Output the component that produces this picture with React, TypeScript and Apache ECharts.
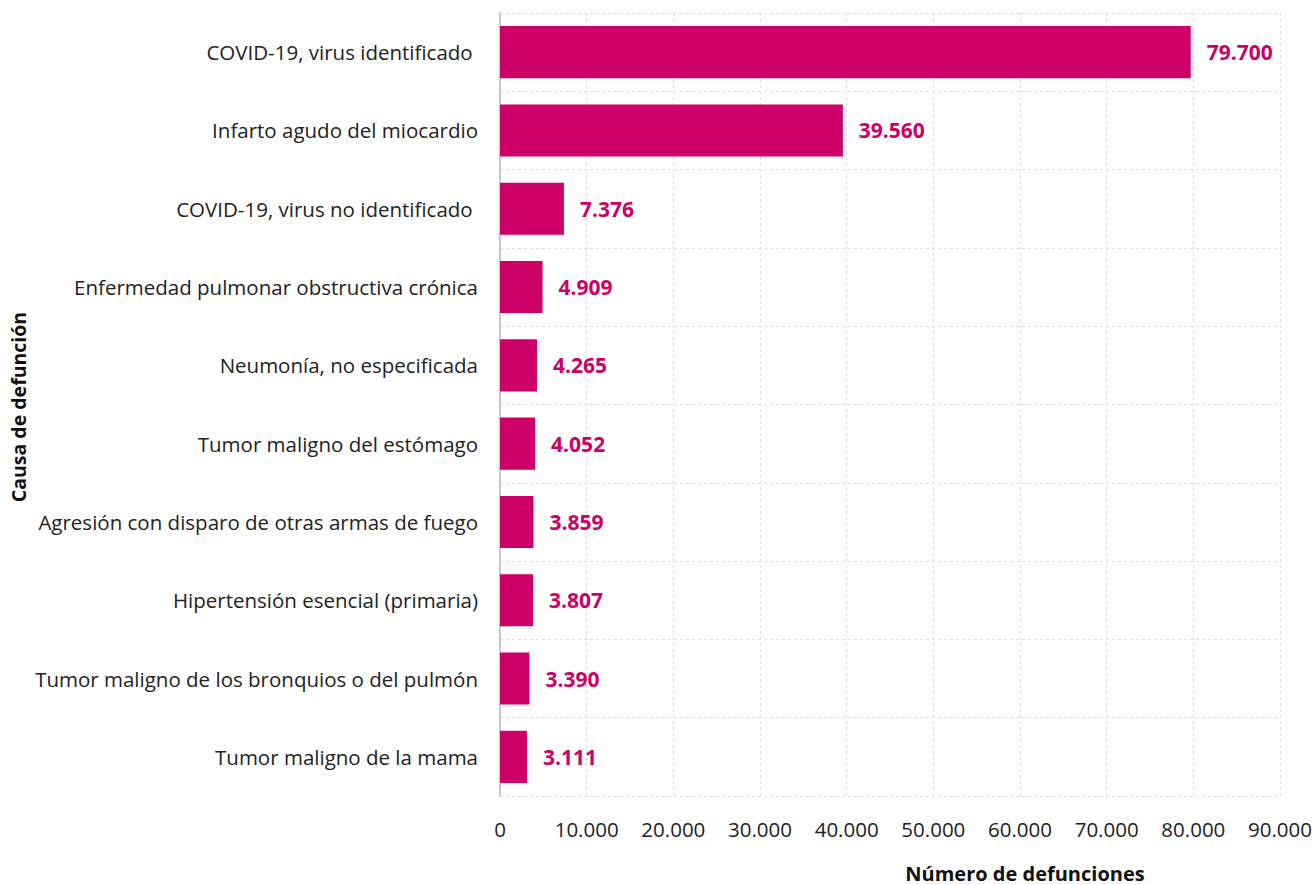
import React, { useEffect, useRef } from "react";
import * as echarts from "echarts";

const categories = [
  "COVID-19, virus identificado ",
  "Infarto agudo del miocardio",
  "COVID-19, virus no identificado ",
  "Enfermedad pulmonar obstructiva crónica",
  "Neumonía, no especificada",
  "Tumor maligno del estómago",
  "Agresión con disparo de otras armas de fuego",
  "Hipertensión esencial (primaria)",
  "Tumor maligno de los bronquios o del pulmón",
  "Tumor maligno de la mama",
];
const values = [79700, 39560, 7376, 4909, 4265, 4052, 3859, 3807, 3390, 3111];

const xTicks = { min: 0, max: 90000, interval: 10000 };
const xAxisTitle = "Número de defunciones";
const yAxisTitle = "Causa de defunción";

const FONT = "'Open Sans', 'Noto Sans', sans-serif";
const fmt = (v: number) => String(v).replace(/\B(?=(\d{3})+(?!\d))/g, ".");

export default function App() {
  const ref = useRef<HTMLDivElement>(null);
  useEffect(() => {
    if (!ref.current) return;
    const chart = echarts.init(ref.current, undefined, { renderer: "svg" });
    chart.setOption({
      animation: false,
      textStyle: { fontFamily: FONT },
      grid: { left: 500, right: 33, top: 13, bottom: 89, containLabel: false },
      xAxis: {
        type: "value",
        min: xTicks.min,
        max: xTicks.max,
        interval: xTicks.interval,
        axisLine: { show: false },
        axisTick: { show: false },
        axisLabel: {
          formatter: (v: number) => fmt(v),
          fontSize: 20.5,
          color: "#222",
          margin: 22,
          fontFamily: FONT,
        },
        splitLine: { show: true, lineStyle: { color: "#dcdcdc", type: [3, 3], width: 1 } },
      },
      yAxis: {
        type: "category",
        data: categories,
        inverse: true,
        axisLine: { show: true, lineStyle: { color: "#c8c8c8", width: 2 } },
        axisTick: { show: false },
        axisLabel: { fontSize: 20.5, color: "#222", margin: 22, fontFamily: FONT },
        splitLine: { show: true, lineStyle: { color: "#dcdcdc", type: [3, 3], width: 1 } },
      },
      series: [
        {
          type: "bar",
          data: values,
          barCategoryGap: "33.5%",
          itemStyle: { color: "#cc0066" },
          label: {
            show: true,
            position: "right",
            distance: 16,
            formatter: (p: any) => fmt(p.value),
            color: "#cc0066",
            fontWeight: "bold",
            fontSize: 21,
            fontFamily: FONT,
          },
        },
      ],
      graphic: [
        {
          type: "text",
          x: 1025,
          y: 873,
          style: {
            text: xAxisTitle,
            fill: "#111",
            font: `bold 20px ${FONT}`,
            align: "center",
            verticalAlign: "middle",
          },
        },
        {
          type: "text",
          x: 8,
          y: 407,
          rotation: Math.PI / 2,
          style: {
            text: yAxisTitle,
            fill: "#111",
            font: `bold 19.5px ${FONT}`,
            align: "center",
            verticalAlign: "top",
          },
        },
      ],
    });
    return () => chart.dispose();
  }, []);
  return (
    <div
      ref={ref}
      style={{ position: "absolute", left: 0, top: 0, width: 1315, height: 885, background: "#fff" }}
    />
  );
}
